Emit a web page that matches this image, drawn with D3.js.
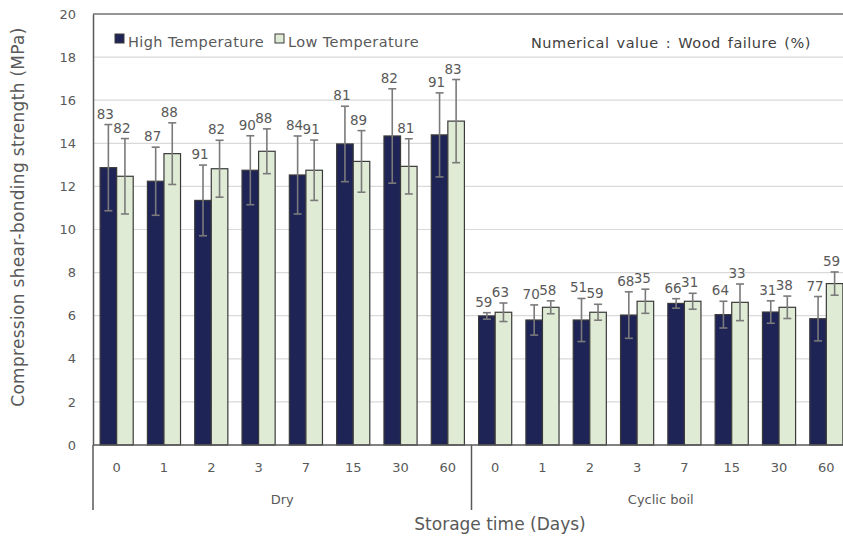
<!DOCTYPE html>
<html>
<head>
<meta charset="utf-8">
<script src="https://cdn.jsdelivr.net/npm/d3@7"></script>
<style>
  body { margin: 0; background: #fff; }
  svg text { font-family: "DejaVu Sans", "Noto Sans", sans-serif; fill: #595959; }
</style>
</head>
<body>
<svg id="svg" width="843" height="538"></svg>
<script>
// storage days, repeated for both conditions
var days = ["0", "1", "2", "3", "7", "15", "30", "60"];
var groups = ["Dry", "Cyclic boil"];
var seriesNames = ["High Temperature", "Low Temperature"];

// shear strength means (MPa)
var highMean = [12.87, 12.24, 11.35, 12.75, 12.53, 13.97, 14.34, 14.39,
                5.99, 5.80, 5.80, 6.03, 6.57, 6.05, 6.17, 5.86];
var lowMean  = [12.47, 13.52, 12.82, 13.63, 12.75, 13.16, 12.93, 15.03,
                6.16, 6.39, 6.16, 6.67, 6.67, 6.62, 6.39, 7.49];
// standard deviations
var highSd = [2.00, 1.58, 1.64, 1.60, 1.81, 1.75, 2.19, 1.95,
              0.15, 0.70, 1.00, 1.08, 0.22, 0.62, 0.52, 1.03];
var lowSd  = [1.75, 1.43, 1.32, 1.04, 1.40, 1.43, 1.28, 1.93,
              0.43, 0.30, 0.37, 0.56, 0.37, 0.85, 0.52, 0.54];
// wood failure (%)
var highWf = [83, 87, 91, 90, 84, 81, 82, 91, 59, 70, 51, 68, 66, 64, 31, 77];
var lowWf  = [82, 88, 82, 88, 91, 89, 81, 83, 63, 58, 59, 35, 31, 33, 38, 59];

var yTicks = [0, 2, 4, 6, 8, 10, 12, 14, 16, 18, 20];

var svg = d3.select("#svg");
var plotL = 93, plotR = 850, plotT = 14, plotB = 445;

var cats = [];
groups.forEach(function(g, gi) {
  days.forEach(function(d, di) { cats.push({group: g, day: d, i: gi * days.length + di}); });
});

var x0 = d3.scaleBand().domain(cats.map(function(c) { return c.i; }))
  .range([plotL, plotR]).paddingInner(0.3).paddingOuter(0.15);
var x1 = d3.scaleBand().domain(["high", "low"]).range([0, x0.bandwidth()]);
var y = d3.scaleLinear().domain([0, 20]).range([plotB, plotT]);

var colors = {high: "#1f2456", low: "#dfebd5"};

// gridlines
svg.append("g").selectAll("line")
  .data(yTicks.filter(function(t) { return t > 0; }))
  .enter().append("line")
  .attr("x1", plotL).attr("x2", plotR)
  .attr("y1", function(d) { return y(d); })
  .attr("y2", function(d) { return y(d); })
  .attr("stroke", "#d9d9d9").attr("stroke-width", 1.2);

// frame top
svg.append("line").attr("x1", plotL).attr("x2", plotR).attr("y1", plotT).attr("y2", plotT)
  .attr("stroke", "#404040").attr("stroke-width", 1);

// y axis
var yAxis = svg.append("g").attr("transform", "translate(" + plotL + ",0)")
  .call(d3.axisLeft(y).tickValues(yTicks).tickSize(0).tickPadding(17));
yAxis.select(".domain").attr("stroke", "#595959").attr("stroke-width", 1.5);
yAxis.selectAll("text").style("font-size", "13px").style("fill", "#595959")
  .style("font-family", "DejaVu Sans");

var rows = [];
cats.forEach(function(c) {
  rows.push({i: c.i, key: "high", v: highMean[c.i], sd: highSd[c.i], wf: highWf[c.i]});
  rows.push({i: c.i, key: "low", v: lowMean[c.i], sd: lowSd[c.i], wf: lowWf[c.i]});
});

// bars
svg.append("g").selectAll("rect")
  .data(rows).enter().append("rect")
  .attr("x", function(d) { return x0(d.i) + x1(d.key); })
  .attr("width", x1.bandwidth())
  .attr("y", function(d) { return y(d.v); })
  .attr("height", function(d) { return y(0) - y(d.v); })
  .attr("fill", function(d) { return colors[d.key]; })
  .attr("stroke", "#3a3a3a").attr("stroke-width", 1.2);

// error bars
var eb = svg.append("g").attr("stroke", "#7a7a7a").attr("stroke-width", 1.6);
rows.forEach(function(d) {
  var cx = x0(d.i) + x1(d.key) + x1.bandwidth() / 2;
  eb.append("line").attr("x1", cx).attr("x2", cx).attr("y1", y(d.v + d.sd)).attr("y2", y(d.v - d.sd));
  eb.append("line").attr("x1", cx - 4).attr("x2", cx + 4).attr("y1", y(d.v + d.sd)).attr("y2", y(d.v + d.sd));
  eb.append("line").attr("x1", cx - 4).attr("x2", cx + 4).attr("y1", y(d.v - d.sd)).attr("y2", y(d.v - d.sd));
});

// wood failure labels
svg.append("g").selectAll("text")
  .data(rows).enter().append("text")
  .attr("x", function(d) { return x0(d.i) + x1(d.key) + x1.bandwidth() / 2 - 3; })
  .attr("y", function(d) { return y(d.v + d.sd) - 6; })
  .attr("text-anchor", "middle")
  .style("font-size", "13.5px")
  .text(function(d) { return d.wf; });

// x axis line
svg.append("line").attr("x1", plotL).attr("x2", plotR).attr("y1", plotB).attr("y2", plotB)
  .attr("stroke", "#595959").attr("stroke-width", 1.5);

// day labels
svg.append("g").selectAll("text")
  .data(cats).enter().append("text")
  .attr("x", function(d) { return x0(d.i) + x0.bandwidth() / 2; })
  .attr("y", 472)
  .attr("text-anchor", "middle")
  .style("font-size", "13px")
  .text(function(d) { return d.day; });

// group separators and labels
var step = x0.step();
groups.forEach(function(g, gi) {
  var gx = plotL + gi * days.length * step;
  svg.append("line").attr("x1", gx).attr("x2", gx).attr("y1", plotB).attr("y2", 510)
    .attr("stroke", "#595959").attr("stroke-width", 1.5);
  svg.append("text")
    .attr("x", gx + days.length * step / 2)
    .attr("y", 504)
    .attr("text-anchor", "middle")
    .style("font-size", "13px")
    .text(g);
});

// axis titles
svg.append("text")
  .attr("transform", "translate(24,217) rotate(-90)")
  .attr("text-anchor", "middle")
  .style("font-size", "17px")
  .style("letter-spacing", "0.3px")
  .text("Compression shear-bonding strength  (MPa)");

svg.append("text")
  .attr("x", 500).attr("y", 530)
  .attr("text-anchor", "middle")
  .style("font-size", "17px")
  .text("Storage time (Days)");

// legend
var legX = [115, 275];
seriesNames.forEach(function(name, i) {
  var key = i == 0 ? "high" : "low";
  svg.append("rect").attr("x", legX[i]).attr("y", 34).attr("width", 9).attr("height", 9)
    .attr("fill", colors[key]).attr("stroke", "#3a3a3a").attr("stroke-width", 1);
  svg.append("text").attr("x", legX[i] + 13).attr("y", 47)
    .style("font-size", "14.5px")
    .style("letter-spacing", "0.4px")
    .text(name);
});

svg.append("text")
  .attr("x", 531).attr("y", 48)
  .style("font-size", "14.5px").style("fill", "#404040")
  .style("letter-spacing", "0.5px").style("word-spacing", "2px")
  .text("Numerical value : Wood failure (%)");
</script>
</body>
</html>
